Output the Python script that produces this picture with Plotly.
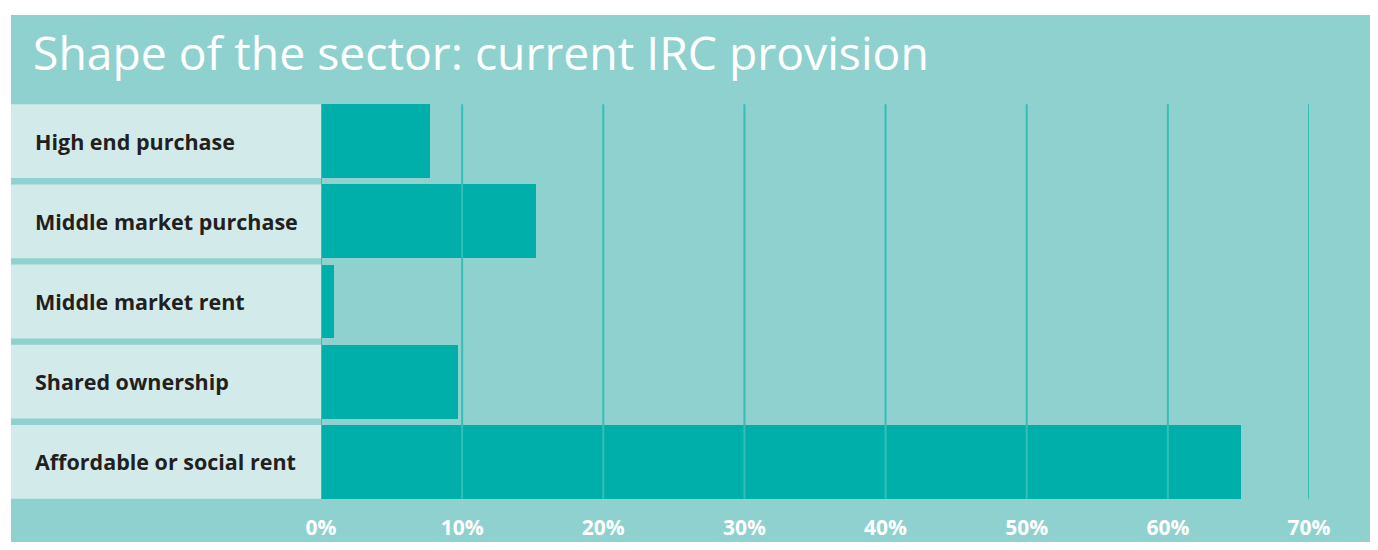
import plotly.graph_objects as go

# ---- data ----
categories = ["High end purchase", "Middle market purchase", "Middle market rent",
              "Shared ownership", "Affordable or social rent"]
values = [7.7, 15.2, 0.9, 9.7, 65.2]
tick_vals = [0, 10, 20, 30, 40, 50, 60, 70]
tick_text = ["0%", "10%", "20%", "30%", "40%", "50%", "60%", "70%"]
title_text = "Shape of the sector: current IRC provision"

# ---- styling ----
OFF = 8                      # page body margin of the html page
W, H = 1378 - 2 * OFF, 550 - 2 * OFF
ML, MR, MT, MB = 321 - OFF, 69 - OFF, 101 - OFF, 48 - OFF
PW, PH = W - ML - MR, H - MT - MB
BG = "#8fd1ce"
BAR = "#00afaa"
BAND = "#d2ebea"
GRID = "#36bdb6"
BARW = 0.92


def px_x(px):
    """reference screen px -> paper x"""
    return (px - OFF - ML) / PW


def px_y(py):
    """reference screen px -> paper y"""
    return (H - MB - (py - OFF)) / PH


fig = go.Figure()
fig.add_trace(go.Bar(
    x=values, y=list(range(len(categories))), orientation="h",
    marker=dict(color=BAR, line=dict(width=0)), width=BARW,
    hoverinfo="skip", showlegend=False,
))

shapes = []
# teal panel
shapes.append(dict(type="rect", xref="paper", yref="paper",
                   x0=px_x(11), x1=px_x(1400), y0=px_y(580), y1=px_y(15),
                   fillcolor=BG, line=dict(width=0), layer="below"))
# label bands
for i, _ in enumerate(categories):
    shapes.append(dict(type="rect", xref="paper", yref="y",
                       x0=px_x(11), x1=0, y0=i - BARW / 2, y1=i + BARW / 2,
                       fillcolor=BAND, line=dict(width=0), layer="below"))
# vertical grid lines above bars
for t in tick_vals:
    shapes.append(dict(type="line", xref="x", yref="y",
                       x0=t, x1=t, y0=-BARW / 2, y1=len(categories) - 1 + BARW / 2,
                       line=dict(color=GRID, width=2), layer="above"))

annotations = []
for i, c in enumerate(categories):
    annotations.append(dict(xref="paper", yref="y", x=px_x(33), y=i, text=c,
                            showarrow=False, xanchor="left", yanchor="middle",
                            font=dict(family="Open Sans", size=21.5, color="#231f20",
                                      weight="bold")))
annotations.append(dict(xref="paper", yref="paper", x=px_x(31), y=px_y(53),
                        text=title_text, showarrow=False, xanchor="left",
                        yanchor="middle",
                        font=dict(family="Open Sans", size=46.3, color="white")))

fig.update_layout(
    width=W, height=H,
    margin=dict(l=ML, r=MR, t=MT, b=MB, pad=0, autoexpand=False),
    paper_bgcolor="white", plot_bgcolor=BG,
    bargap=0,
    shapes=shapes, annotations=annotations,
    xaxis=dict(range=[0, 70], tickvals=tick_vals, ticktext=tick_text,
               showgrid=False, zeroline=False, showline=False, ticks="",
               tickfont=dict(family="Open Sans", size=21, color="white",
                             weight="bold"),
               ticklabelstandoff=11, automargin=False, fixedrange=True),
    yaxis=dict(range=[len(categories) - 0.5, -0.5], showticklabels=False,
               showgrid=False, zeroline=False, showline=False, ticks="",
               automargin=False, fixedrange=True),
)

fig.write_html("out.html")
